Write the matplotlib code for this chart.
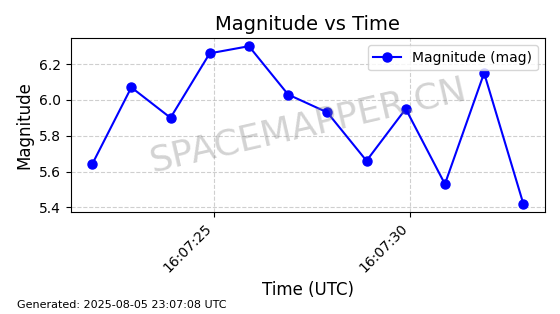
import matplotlib
matplotlib.use("Agg")
import matplotlib.pyplot as plt
import matplotlib.dates as mdates
import pandas as pd

times = pd.to_datetime("2025-08-05 16:07:21.89") + pd.to_timedelta(range(12), unit="s")
magnitudes = [5.64, 6.07, 5.90, 6.26, 6.30, 6.03, 5.93, 5.66, 5.95, 5.53, 6.15, 5.42]

TITLE = "Magnitude vs Time"
XLABEL = "Time (UTC)"
YLABEL = "Magnitude"
SERIES_LABEL = "Magnitude (mag)"
WATERMARK = "SPACEMAPPER.CN"
FOOTER = "Generated: 2025-08-05 23:07:08 UTC"


fig, ax = plt.subplots(figsize=(5.6, 3.14), dpi=100)

ax.plot(times, magnitudes, color="blue", marker="o", markersize=6.5,
        linewidth=1.5, label=SERIES_LABEL)

ax.grid(True, linestyle="--", alpha=0.6)

ax.text(0.5, 0.5, WATERMARK, transform=ax.transAxes, fontsize=26,
        color="gray", alpha=0.35, rotation=13, ha="center", va="center")

ax.xaxis.set_major_locator(mdates.SecondLocator(bysecond=range(0, 60, 5)))
ax.xaxis.set_major_formatter(mdates.DateFormatter("%H:%M:%S"))
plt.setp(ax.get_xticklabels(), rotation=45, ha="right")

ax.set_title(TITLE, fontsize=14)
ax.set_xlabel(XLABEL, fontsize=12)
ax.set_ylabel(YLABEL, fontsize=12)
ax.legend(loc="upper right")

fig.text(0.03, 0.02, FOOTER, fontsize=8)

plt.subplots_adjust(left=0.126, right=0.973, top=0.878, bottom=0.326)
plt.savefig("out.png", dpi=100)
